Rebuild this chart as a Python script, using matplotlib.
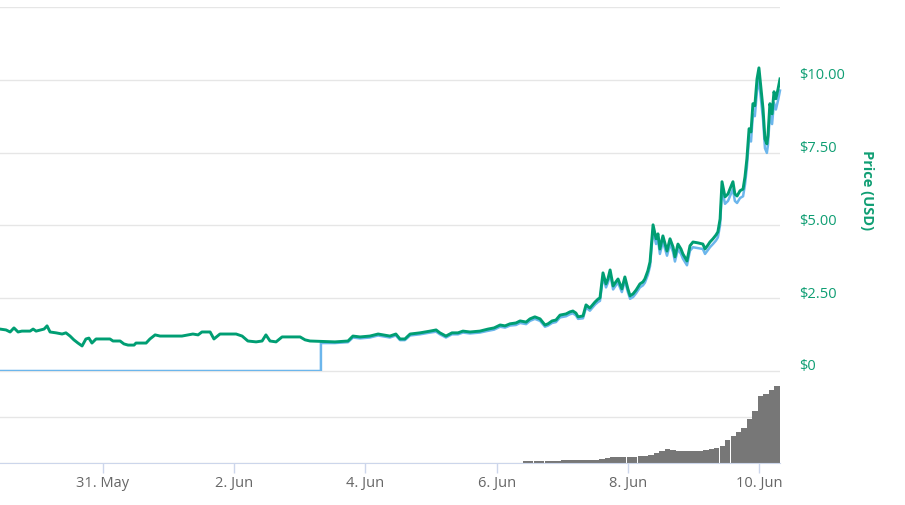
import numpy as np
import pandas as pd
import matplotlib
matplotlib.use('Agg')
import matplotlib.pyplot as plt
from matplotlib.transforms import ScaledTranslation

plt.rcParams['font.family'] = ['Open Sans', 'DejaVu Sans']

# time axis: hours after this timestamp
start = pd.Timestamp('2018-05-29 10:30')

price_hours = [0.0, 2.2, 3.7, 5.1, 6.6, 8.0, 11.0, 12.1, 13.2, 16.1, 17.2, 18.3, 20.5, 22.7, 24.1,
               25.6, 27.0, 28.5, 30.0, 31.4, 32.5, 33.6, 35.1, 40.2, 41.3, 43.9, 45.3, 46.8, 49.0,
               49.7, 53.4, 54.8, 56.7, 58.5, 62.1, 66.5, 70.5, 72.4, 73.8, 76.8, 78.2, 80.4, 86.3,
               88.5, 90.6, 93.6, 95.8, 97.2, 98.7, 100.9, 103.1, 109.7, 111.5, 113.3,
               122.4, 127.2, 129.0, 131.6, 135.2, 138.2, 142.5, 144.7, 146.2, 148.0, 149.9, 153.5,
               157.2, 159.4, 160.8, 163.0, 165.2, 167.4, 169.2, 171.8, 175.4, 178.4, 180.6, 182.8,
               184.6, 186.4, 188.6, 190.1, 192.3, 193.7, 195.5, 197.4, 199.2, 200.3, 201.8, 203.2,
               204.7, 206.9, 208.3, 209.4, 210.5, 211.3, 213.1, 214.2, 215.6, 217.5, 218.6, 219.3,
               220.4, 221.5, 222.2, 223.0, 224.1, 225.1, 225.9, 227.3, 228.4, 229.5, 230.3, 231.4,
               232.5, 233.9, 235.0, 235.7, 236.8, 237.6, 238.7, 239.8, 240.5, 241.2, 242.3, 243.8,
               244.9, 246.0, 246.7, 247.8, 248.9, 249.6, 251.1, 252.2, 253.3, 255.1, 256.9, 257.7,
               258.8, 259.5, 260.6, 261.7, 262.4, 263.2, 263.9, 265.0, 266.1, 266.8, 267.9, 268.6,
               269.4, 270.5, 271.6, 272.3, 273.0, 273.8, 274.5, 275.2, 275.9, 276.7, 277.4, 278.1,
               278.9, 279.6, 280.3, 280.7, 281.4, 282.2, 282.9, 283.6, 284.4, 285.1]

price_usd = [1.44, 1.41, 1.34, 1.48, 1.34, 1.37, 1.37, 1.44, 1.37, 1.44, 1.55, 1.34, 1.31, 1.27, 1.31,
             1.20, 1.07, 0.96, 0.86, 1.10, 1.13, 0.96, 1.10, 1.10, 1.03, 1.03, 0.93, 0.89, 0.89,
             0.96, 0.96, 1.10, 1.24, 1.20, 1.20, 1.20, 1.27, 1.24, 1.34, 1.34, 1.10, 1.27, 1.27,
             1.20, 1.03, 1.00, 1.03, 1.24, 1.03, 1.00, 1.17, 1.17, 1.07, 1.03,
             1.00, 1.03, 1.20, 1.17, 1.20, 1.27, 1.20, 1.27, 1.10, 1.10, 1.27, 1.31,
             1.37, 1.41, 1.31, 1.20, 1.31, 1.31, 1.37, 1.34, 1.37, 1.44, 1.48, 1.58,
             1.55, 1.62, 1.65, 1.72, 1.68, 1.79, 1.86, 1.79, 1.58, 1.62, 1.72, 1.75,
             1.92, 1.96, 2.03, 2.06, 1.99, 1.86, 1.89, 2.27, 2.16, 2.37, 2.47, 2.51,
             3.37, 2.99, 3.16, 3.47, 2.92, 3.06, 3.16, 2.82, 3.23, 2.82, 2.58, 2.65,
             2.78, 2.99, 3.06, 3.16, 3.44, 3.75, 5.02, 4.54, 4.71, 4.19, 4.64, 4.12,
             4.54, 4.26, 3.92, 4.36, 4.19, 4.02, 3.78, 4.30, 4.43, 4.40, 4.36, 4.19,
             4.33, 4.43, 4.54, 4.67, 4.78, 5.22, 6.50, 5.98, 6.08, 6.25, 6.50, 6.08,
             6.01, 6.19, 6.25, 6.67, 7.29, 8.32, 8.21, 9.18, 9.11, 10.03, 10.41, 9.76,
             9.00, 7.97, 7.80, 8.08, 9.18, 8.83, 9.59, 9.35, 9.69, 10.03]

# market cap line (hidden axis, drawn on the price scale); zero until supply data starts
cap_hours = [0.0, 117.3, 117.3] + price_hours[price_hours.index(122.4):]
cap_line = [0.0, 0.0, 0.96,
            0.96, 0.99, 1.15, 1.12, 1.15, 1.22, 1.15, 1.22, 1.06, 1.06, 1.22, 1.26,
            1.32, 1.35, 1.26, 1.15, 1.26, 1.26, 1.32, 1.29, 1.32, 1.38, 1.42, 1.52,
            1.49, 1.56, 1.58, 1.65, 1.61, 1.72, 1.79, 1.72, 1.52, 1.56, 1.65, 1.68,
            1.84, 1.88, 1.95, 1.98, 1.91, 1.79, 1.81, 2.18, 2.07, 2.28, 2.37, 2.41,
            3.24, 2.87, 3.03, 3.33, 2.80, 2.94, 3.03, 2.71, 3.10, 2.71, 2.48, 2.54,
            2.67, 2.87, 2.94, 3.03, 3.30, 3.60, 4.82, 4.36, 4.52, 4.02, 4.45, 3.96,
            4.36, 4.09, 3.76, 4.19, 4.02, 3.86, 3.63, 4.13, 4.25, 4.22, 4.19, 4.02,
            4.16, 4.25, 4.36, 4.48, 4.59, 5.01, 6.24, 5.74, 5.84, 6.00, 6.24, 5.84,
            5.77, 5.94, 6.00, 6.40, 7.00, 7.99, 7.88, 8.81, 8.75, 9.63, 9.99, 9.37,
            8.64, 7.65, 7.49, 7.76, 8.81, 8.48, 9.21, 8.98, 9.30, 9.63]

volume_hours = [192, 194, 196, 198, 200, 202, 204, 206, 208, 210, 212, 214, 216, 218, 220, 222,
                224, 226, 228, 230, 232, 234, 236, 238, 240, 242, 244, 246, 248, 250, 252, 254,
                256, 258, 260, 262, 264, 266, 268, 270, 272, 274, 276, 278, 280, 282, 284]
volume = [0.04, 0.04, 0.04, 0.05, 0.04, 0.05, 0.05, 0.06, 0.06, 0.06, 0.06, 0.07, 0.07, 0.07,
          0.08, 0.10, 0.12, 0.13, 0.13, 0.13, 0.13, 0.15, 0.15, 0.17, 0.21, 0.26, 0.30, 0.29,
          0.27, 0.27, 0.26, 0.27, 0.27, 0.28, 0.31, 0.33, 0.38, 0.50, 0.58, 0.68, 0.77, 0.95,
          1.12, 1.45, 1.49, 1.58, 1.68]

price_ticks = [0, 2.5, 5, 7.5, 10, 12.5]
price_labels = ['$0', '$2.50', '$5.00', '$7.50', '$10.00', '']
date_ticks = pd.date_range('2018-05-31', periods=6, freq='2D')

green = '#009e73'
label_green = '#0f9e73'
blue = '#6cb6ec'
grid_c = '#e6e6e6'
axis_c = '#ccd6eb'

W, H = 905, 506
fig = plt.figure(figsize=(W / 100, H / 100), dpi=100)
ax = fig.add_axes([0, 134 / H, 780 / W, 364 / H])
axv = fig.add_axes([0, 42 / H, 780 / W, 92 / H], sharex=ax)

t_price = start + pd.to_timedelta(price_hours, unit='h')
t_cap = start + pd.to_timedelta(cap_hours, unit='h')
t_vol = start + pd.to_timedelta(volume_hours, unit='h')

ax.plot(t_cap, cap_line, color=blue, lw=1.8, zorder=3, clip_on=False)
ax.plot(t_price, price_usd, color=green, lw=2.1, zorder=4)
ax.set_ylim(0, 12.5)
ax.set_yticks(price_ticks)
ax.set_yticklabels(price_labels)
ax.yaxis.tick_right()
ax.tick_params(axis='y', length=0, pad=14, labelsize=10.5, labelcolor=label_green)
# highcharts puts the labels a little above their grid line
lift = ScaledTranslation(0, 7 / 100, fig.dpi_scale_trans)
for lbl in ax.get_yticklabels():
    lbl.set_transform(lbl.get_transform() + lift)
ax.tick_params(axis='x', length=0, labelbottom=False)
ax.grid(axis='y', color=grid_c, lw=1)
ax.set_axisbelow(True)
for s in ax.spines.values():
    s.set_visible(False)

axv.bar(t_vol, volume, width=1.95 / 24, color='#777777', linewidth=0, zorder=2)
axv.set_ylim(0, 2)
axv.set_yticks([0, 1, 2])
axv.tick_params(axis='y', length=0, labelleft=False, labelright=False)
axv.grid(axis='y', color=grid_c, lw=1)
axv.set_axisbelow(True)
for k, s in axv.spines.items():
    s.set_visible(k == 'bottom')
axv.spines['bottom'].set_color(axis_c)
axv.spines['bottom'].set_zorder(5)
axv.set_xticks(date_ticks)
axv.set_xticklabels([f"{d.day}. {d.strftime('%b')}" for d in date_ticks])
axv.tick_params(axis='x', length=7.5, width=1, color=axis_c, labelcolor='#666666',
                labelsize=10.5, pad=1.5)
axv.set_xlim(start, start + pd.Timedelta(hours=285.1))

fig.text(867 / W, 1 - 190 / H, 'Price (USD)', rotation=270, ha='center', va='center',
         fontweight='bold', color=label_green, fontsize=10.5)

fig.savefig('out.png', dpi=100)
